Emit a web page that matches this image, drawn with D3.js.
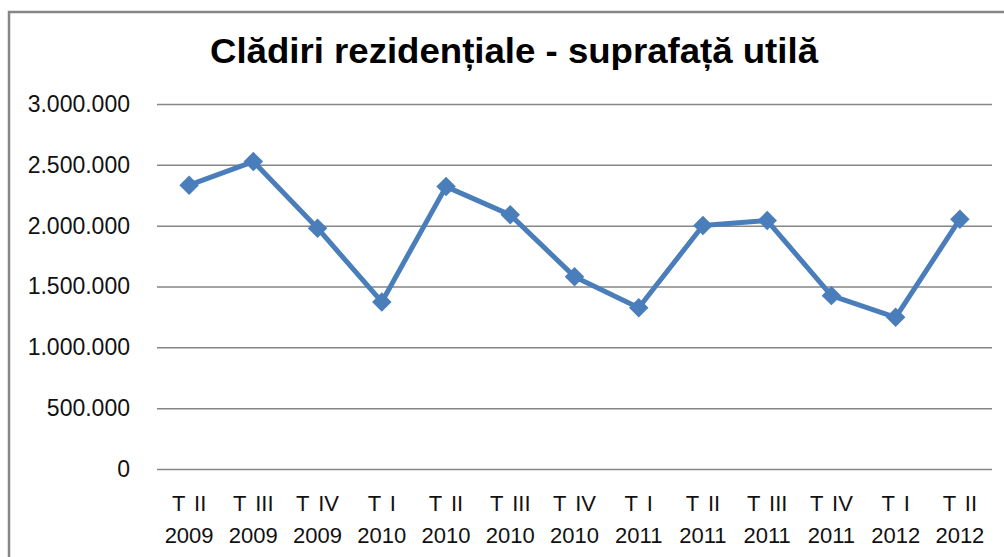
<!DOCTYPE html>
<html>
<head>
<meta charset="utf-8">
<script src="https://cdn.jsdelivr.net/npm/d3@7"></script>
<style>
  body { margin: 0; background: #fff; }
  svg { display: block; }
</style>
</head>
<body>
<div id="chart"></div>
<script>
const quarters = ["T II", "T III", "T IV", "T I", "T II", "T III", "T IV", "T I", "T II", "T III", "T IV", "T I", "T II"];
const years = ["2009", "2009", "2009", "2010", "2010", "2010", "2010", "2011", "2011", "2011", "2011", "2012", "2012"];
const values = [2333000, 2527000, 1979000, 1373000, 2321000, 2089000, 1581000, 1326000, 2001000, 2042000, 1425000, 1247000, 2053000];
const yTicks = [0, 500000, 1000000, 1500000, 2000000, 2500000, 3000000];

const width = 1004, height = 557;
const color = "#4A7EBB";

const fmt = d3.formatLocale({ decimal: ",", thousands: ".", grouping: [3], currency: ["", ""] }).format(",");

const svg = d3.select("#chart")
  .append("svg")
  .attr("width", width)
  .attr("height", height);

// chart border (right / bottom edges fall outside the picture)
svg.append("rect")
  .attr("x", 9).attr("y", 12)
  .attr("width", 1100).attr("height", 700)
  .attr("fill", "none")
  .attr("stroke", "#868686")
  .attr("stroke-width", 2.5);

// title
svg.append("text")
  .attr("x", 514).attr("y", 63)
  .attr("text-anchor", "middle")
  .attr("textLength", 608)
  .attr("lengthAdjust", "spacingAndGlyphs")
  .style("font-family", "'Liberation Sans', Arial, sans-serif")
  .style("font-weight", "bold")
  .style("font-size", "35px")
  .text("Clădiri rezidențiale - suprafață utilă");

const x = d3.scaleBand()
  .domain(d3.range(values.length))
  .range([157, 992]);

const y = d3.scaleLinear()
  .domain([0, 3000000])
  .range([469, 104]);

// y axis with gridlines
const yAxis = svg.append("g")
  .attr("transform", "translate(157,0)")
  .call(d3.axisLeft(y)
    .tickValues(yTicks)
    .tickSize(-(992 - 157))
    .tickPadding(27)
    .tickFormat(fmt));
yAxis.select(".domain").remove();
yAxis.selectAll(".tick line")
  .attr("stroke", "#868686")
  .attr("stroke-width", 1.5);
yAxis.selectAll(".tick text")
  .attr("fill", "#111")
  .style("font-family", "'Liberation Sans', Arial, sans-serif")
  .style("font-size", "23px");

// x labels (two lines)
const xl = svg.append("g")
  .selectAll("text")
  .data(values)
  .enter()
  .append("text")
  .attr("text-anchor", "middle")
  .style("font-family", "'Liberation Sans', Arial, sans-serif")
  .style("font-size", "22px")
  .style("word-spacing", "3px")
  .attr("fill", "#111");
xl.append("tspan")
  .attr("x", (d, i) => x(i) + x.bandwidth() / 2)
  .attr("y", 511)
  .text((d, i) => quarters[i]);
xl.append("tspan")
  .attr("x", (d, i) => x(i) + x.bandwidth() / 2)
  .attr("y", 543)
  .text((d, i) => years[i]);

// line
const line = d3.line()
  .x((d, i) => x(i) + x.bandwidth() / 2)
  .y(d => y(d));

svg.append("path")
  .datum(values)
  .attr("d", line)
  .attr("fill", "none")
  .attr("stroke", color)
  .attr("stroke-width", 5)
  .attr("stroke-linejoin", "round");

// diamond markers
const marker = d3.symbol().type(d3.symbolSquare).size(190);
svg.append("g")
  .selectAll("path")
  .data(values)
  .enter()
  .append("path")
  .attr("d", marker)
  .attr("fill", color)
  .attr("transform", (d, i) => `translate(${x(i) + x.bandwidth() / 2},${y(d)}) rotate(45)`);
</script>
</body>
</html>
